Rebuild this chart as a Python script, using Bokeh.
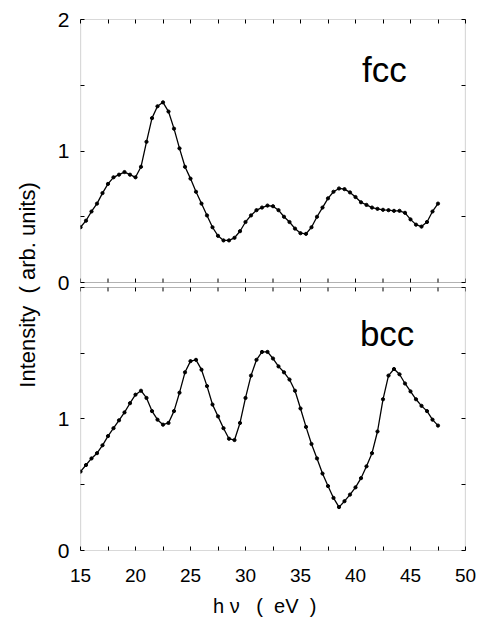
from bokeh.plotting import figure
from bokeh.models import (Range1d, LinearAxis, FixedTicker, CustomJSTickFormatter,
                          BoxAnnotation, Label)
from bokeh.embed import file_html
from bokeh.resources import INLINE

# ---- data (photon energy in eV, intensity in arb. units) ----
energy = [15.0, 15.5, 16.0, 16.5, 17.0, 17.5, 18.0, 18.5, 19.0, 19.5,
          20.0, 20.5, 21.0, 21.5, 22.0, 22.5, 23.0, 23.5, 24.0, 24.5,
          25.0, 25.5, 26.0, 26.5, 27.0, 27.5, 28.0, 28.5, 29.0, 29.5,
          30.0, 30.5, 31.0, 31.5, 32.0, 32.5, 33.0, 33.5, 34.0, 34.5,
          35.0, 35.5, 36.0, 36.5, 37.0, 37.5, 38.0, 38.5, 39.0, 39.5,
          40.0, 40.5, 41.0, 41.5, 42.0, 42.5, 43.0, 43.5, 44.0, 44.5,
          45.0, 45.5, 46.0, 46.5, 47.0, 47.5]

fcc = [0.42, 0.47, 0.54, 0.60, 0.68, 0.75, 0.80, 0.82, 0.84, 0.82,
       0.80, 0.88, 1.07, 1.25, 1.34, 1.37, 1.30, 1.17, 1.02, 0.88,
       0.79, 0.69, 0.60, 0.51, 0.42, 0.355, 0.32, 0.32, 0.34, 0.39,
       0.46, 0.51, 0.55, 0.57, 0.585, 0.58, 0.55, 0.50, 0.46, 0.41,
       0.375, 0.37, 0.42, 0.50, 0.57, 0.64, 0.69, 0.715, 0.71, 0.685,
       0.65, 0.61, 0.59, 0.57, 0.56, 0.553, 0.55, 0.545, 0.545, 0.53,
       0.48, 0.44, 0.425, 0.46, 0.54, 0.60]

bcc = [0.60, 0.65, 0.70, 0.74, 0.80, 0.87, 0.93, 0.99, 1.05, 1.12,
       1.185, 1.215, 1.16, 1.06, 0.995, 0.957, 0.97, 1.06, 1.20, 1.355,
       1.44, 1.45, 1.375, 1.25, 1.11, 1.02, 0.93, 0.85, 0.84, 0.97,
       1.16, 1.33, 1.45, 1.51, 1.51, 1.46, 1.40, 1.355, 1.30, 1.215,
       1.08, 0.94, 0.81, 0.70, 0.585, 0.49, 0.40, 0.33, 0.375, 0.425,
       0.48, 0.55, 0.64, 0.74, 0.905, 1.15, 1.33, 1.38, 1.34, 1.27,
       1.21, 1.15, 1.10, 1.06, 0.995, 0.95]

x_major_ticks = [15, 20, 25, 30, 35, 40, 45, 50]
x_minor_ticks = [17.5, 22.5, 27.5, 32.5, 37.5, 42.5, 47.5]
y_major_ticks = [0, 1, 2]
y_minor_ticks = [0.5, 1.5]
panel_labels = ["fcc", "bcc"]

# ---- layout constants ----
GAP = 0.038            # gap between the two panels, in intensity units
OFF = 2 + GAP          # offset of the upper panel on the main y range
FONT = "Liberation Sans"
TICK = 4
NB = "\u00a0"

p = figure(width=477, height=629, output_backend="svg", toolbar_location=None,
           x_range=Range1d(15, 50), y_range=Range1d(0, 4 + GAP),
           min_border_left=80, min_border_right=12, min_border_top=19,
           min_border_bottom=79)
p.extra_y_ranges = {"top": Range1d(-OFF, 2)}
p.outline_line_color = None
p.grid.visible = False
p.background_fill_color = "white"
p.border_fill_color = "white"

blank = CustomJSTickFormatter(code="return '';")

# bottom x axis
xa = p.xaxis[0]
xa.ticker = FixedTicker(ticks=x_major_ticks, minor_ticks=x_minor_ticks)
xa.axis_line_color = None
xa.major_tick_in = TICK
xa.major_tick_out = 0
xa.minor_tick_in = TICK
xa.minor_tick_out = 0
xa.major_label_text_font = FONT
xa.major_label_text_font_size = "19px"
xa.major_label_text_color = "black"
xa.major_label_standoff = 18
xa.axis_label = ("h" + NB + "ν" + NB * 3 + "(" + NB * 2 + "eV" + NB * 2 + ")" + NB * 3)
xa.axis_label_text_font = FONT
xa.axis_label_text_font_size = "20px"
xa.axis_label_text_font_style = "normal"
xa.axis_label_text_color = "black"
xa.axis_label_standoff = 10

# left y axis covering both panels
left_major = [t for t in y_major_ticks] + [t + OFF for t in y_major_ticks]
left_minor = [t for t in y_minor_ticks] + [t + OFF for t in y_minor_ticks]
ya = p.yaxis[0]
ya.ticker = FixedTicker(ticks=left_major, minor_ticks=left_minor)
ya.formatter = CustomJSTickFormatter(args={"OFF": OFF}, code="""
    if (Math.abs(tick - 2) < 1e-6) { return ''; }
    const v = tick >= OFF - 1e-6 ? tick - OFF : tick;
    return Math.round(v).toString();
""")
ya.axis_line_color = None
ya.major_tick_in = TICK
ya.major_tick_out = 0
ya.minor_tick_in = TICK
ya.minor_tick_out = 0
ya.major_label_text_font = FONT
ya.major_label_text_font_size = "21px"
ya.major_label_text_color = "black"
ya.major_label_standoff = 11
ya.axis_label = "Intensity" + NB * 2 + "(" + NB + "arb." + NB + "units)"
ya.axis_label_text_font = FONT
ya.axis_label_text_font_size = "22px"
ya.axis_label_text_font_style = "normal"
ya.axis_label_text_color = "black"
ya.axis_label_standoff = 15

# right axis (ticks only)
ra = LinearAxis(ticker=FixedTicker(ticks=left_major, minor_ticks=left_minor),
                formatter=blank, axis_line_color=None,
                major_tick_in=TICK, major_tick_out=0,
                minor_tick_in=TICK, minor_tick_out=0,
                major_label_standoff=0, major_label_text_font_size="1px")
p.add_layout(ra, "right")

# top axis (ticks only)
ta = LinearAxis(ticker=FixedTicker(ticks=x_major_ticks, minor_ticks=x_minor_ticks),
                formatter=blank, axis_line_color=None,
                major_tick_in=TICK, major_tick_out=0,
                minor_tick_in=TICK, minor_tick_out=0,
                major_label_standoff=0, major_label_text_font_size="1px")
p.add_layout(ta, "above")

# panel frames
p.add_layout(BoxAnnotation(left=15, right=50, bottom=0, top=2,
                           fill_alpha=0, line_color="black", line_width=1.2))
p.add_layout(BoxAnnotation(left=15, right=50, bottom=OFF, top=OFF + 2,
                           fill_alpha=0, line_color="black", line_width=1.2))

# tick marks on the inner edges between panels
all_x_ticks = sorted(x_major_ticks + x_minor_ticks)
tick_len = 0.03
p.segment(x0=all_x_ticks, y0=[2] * len(all_x_ticks),
          x1=all_x_ticks, y1=[2 - tick_len] * len(all_x_ticks),
          line_color="black", line_width=1)
p.segment(x0=all_x_ticks, y0=[0] * len(all_x_ticks),
          x1=all_x_ticks, y1=[tick_len] * len(all_x_ticks),
          line_color="black", line_width=1, y_range_name="top")

# data
p.line(energy, fcc, line_color="black", line_width=1.3, y_range_name="top")
p.scatter(energy, fcc, size=3.2, color="black", y_range_name="top")
p.line(energy, bcc, line_color="black", line_width=1.3)
p.scatter(energy, bcc, size=3.2, color="black")

# panel labels
p.add_layout(Label(x=40.6, y=OFF + 1.62, text=panel_labels[0],
                   text_font=FONT, text_font_size="35px", text_color="black",
                   text_baseline="alphabetic", text_align="left"))
p.add_layout(Label(x=40.4, y=1.65, text=panel_labels[1],
                   text_font=FONT, text_font_size="35px", text_color="black",
                   text_baseline="alphabetic", text_align="left"))

open("out.html", "w").write(file_html(p, INLINE))
